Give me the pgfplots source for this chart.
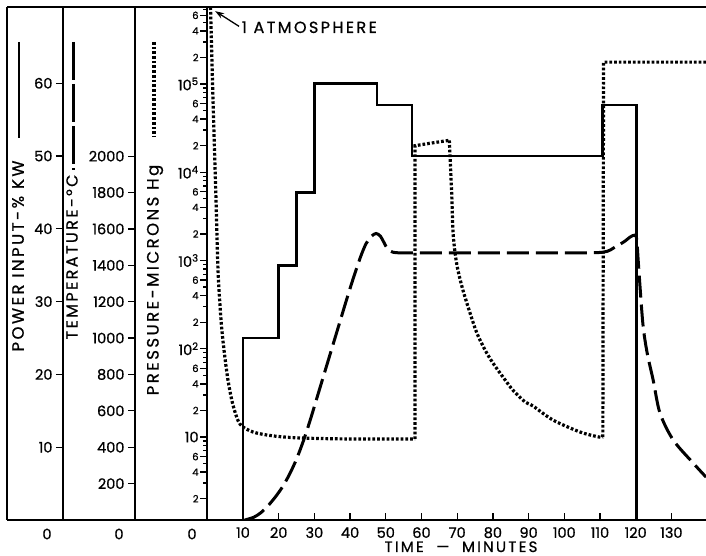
\documentclass[border=0pt]{standalone}
\usepackage{pgfplots}
\pgfplotsset{compat=1.18}
\usepackage{fontspec}
\setmainfont{Poppins}[FakeBold=0.8]
\newfontfamily\lettering{Poppins}[LetterSpace=15, FakeBold=0.8]
\usetikzlibrary{arrows.meta}
\newcommand\sm{\fontsize{10}{10}\selectfont}
\newcommand\lab{\fontsize{14.5}{14.5}\selectfont}
\newcommand\bg{\fontsize{16}{16}\selectfont}

\pgfplotsset{
  base/.style={scale only axis, height=513pt, anchor=south west,
    tick style={line width=1.3pt, black},
    major tick length=7pt, minor tick length=4pt,
    /pgf/number format/assume math mode=true,
    /pgf/number format/1000 sep={},
    ticklabel style={font=\lab},
    axis line style={line width=2pt}},
}
\tikzset{
  pw/.style={black, line width=2.7pt},
  tp/.style={black, line width=3pt, dash pattern=on 22pt off 7pt},
  pr/.style={black, line width=3.2pt, line cap=butt, dash pattern=on 2.7pt off 2pt},
}

\begin{document}
\begin{tikzpicture}
\useasboundingbox (0pt,0pt) rectangle (706pt,556pt);

% power input axis (its column starts at x=63)
\begin{axis}[base, at={(63pt,36pt)}, width=643pt,
  xmin=-40.42, xmax=139.7, ymin=0, ymax=70.47,
  axis x line=none, axis y line*=left,
  ytick={10,20,...,60}, ytick align=outside]
\addplot[pw] coordinates {
(10,0) (10,25) (20,25) (20,35) (25,35) (25,45) (30,45) (30,60)
(47.5,60) (47.5,57) (57.3,57) (57.3,50) (110.8,50) (110.8,57)
(120.3,57) (120.3,0)
};
\end{axis}

% temperature axis
\begin{axis}[base, at={(135pt,36pt)}, width=571pt,
  xmin=-20.25, xmax=139.7, ymin=0, ymax=2820,
  axis x line=none, axis y line*=left,
  ytick={200,400,...,2000}, ytick align=outside]
\addplot[tp, smooth] coordinates {
(10.5,0) (13,15) (15,40) (17,78) (19,125) (21,180) (23,250) (25,335)
(27.1,445) (29,560) (31,690) (33,820) (35,950) (37,1080) (39,1210)
(41,1335) (43,1450) (44.5,1520) (46,1560) (47.3,1575) (48.5,1560)
(49.5,1525) (50.5,1490) (52,1472) (55,1468) (60,1468) (80,1468)
(100,1468) (110.8,1472) (114.2,1500) (117.0,1533) (118.4,1555)
(119.8,1566) (120.3,1540) (120.8,1400) (122.0,1082) (123.2,920)
(124.9,769) (126.8,588) (130.5,440) (136.1,313) (139.7,236)
};
\end{axis}

% pressure axis, time axis
\begin{axis}[base, at={(207.3pt,36pt)}, width=498.7pt,
  xmin=0, xmax=139.7, ymode=log, ymin=1.147, ymax=7.46e5,
  axis x line*=bottom, axis y line*=left,
  xtick={10,20,...,130}, xtick align=inside, ytick align=outside,
  ytick={2,4,6,10,20,40,60,100,200,400,600,1000,2000,4000,6000,
    10000,20000,40000,60000,100000,200000,400000,600000},
  yticklabels={{\sm 2},{\sm 4},{\sm 6},10,
    {\sm 2},{\sm 4},{\sm 6},10\textsuperscript{2},
    {\sm 2},{\sm 4},{\sm 6},10\textsuperscript{3},
    {\sm 2},{\sm 4},{\sm 6},10\textsuperscript{4},
    {\sm 2},{\sm 4},{\sm 6},10\textsuperscript{5},
    {\sm 2},{\sm 4},{\sm 6}},
  minor ytick={3,5,7,8,9,30,50,70,80,90,300,500,700,800,900,
    3000,5000,7000,8000,9000,30000,50000,70000,80000,90000,
    300000,500000,700000},
  yticklabel style={inner sep=1.5pt},
  xticklabel style={inner sep=0pt, anchor=north, yshift=-7pt}]
\addplot[pr, smooth] coordinates {
(0.9,7.4e5) (1.6,6.6e4) (2.44,4850) (3.0,780) (3.84,212) (4.68,97)
(5.8,44) (7.2,23) (9.16,14) (12.8,11.4) (18.4,10.3) (26,9.75) (40,9.5) (58.2,9.5)
};
\addplot[pr] coordinates {
(58.2,9.5) (58.2,2.0e4) (63,2.15e4) (67.8,2.3e4)
};
\addplot[pr, smooth] coordinates {
(67.8,2.3e4) (68.0,1.5e4) (68.5,5250) (68.8,2200) (69.4,1220) (70.2,780)
(71.6,463) (73.6,254) (75.5,151) (77.8,97) (80.0,69) (82.8,48) (85.6,34)
(89.0,25) (91.2,22.5) (96.8,15.6) (104.4,11.4) (109.7,10.0) (110.8,10.0)
};
\addplot[pr] coordinates {
(110.8,10) (111.0,1.77e5) (139.7,1.77e5)
};
\draw[-{Stealth[length=9pt,width=6pt]}, line width=1.3pt]
  (axis cs:8.9,4.5e5) -- (axis cs:2.2,6.7e5);
\node[anchor=west, font=\lettering\bg, inner sep=0pt]
  at (axis cs:9.6,4.4e5) {1 ATMOSPHERE};
\end{axis}

\begin{scope}[x=1pt, y=1pt]
\draw[line width=2pt] (7,549) -- (706,549);
\draw[line width=2pt] (7,36) -- (706,36);
\draw[line width=2pt] (7,36) -- (7,549);
% column legends
\draw[pw] (19,514) -- (19,418);
\draw[black, line width=3pt, dash pattern=on 38pt off 4pt] (73,514) -- (73,386);
\draw[pr] (154,514) -- (154,419);
\node[rotate=90, font=\lettering\fontsize{16.5}{16.5}\selectfont] at (18,300) {POWER INPUT-\% KW};
\node[rotate=90, font=\lettering\bg] at (72,299) {TEMPERATURE-°C};
\node[rotate=90, font=\lettering\fontsize{16.5}{16.5}\selectfont] at (155,276) {PRESSURE-MICRONS Hg};
\node[font=\lab] at (47,22) {0};
\node[font=\lab] at (119,22) {0};
\node[font=\lab] at (192,22) {0};
\node[font=\lettering\fontsize{15}{15}\selectfont, anchor=base, inner sep=0pt] at (461,4) {TIME\ \ —\ \ MINUTES};
\end{scope}
\end{tikzpicture}
\end{document}
